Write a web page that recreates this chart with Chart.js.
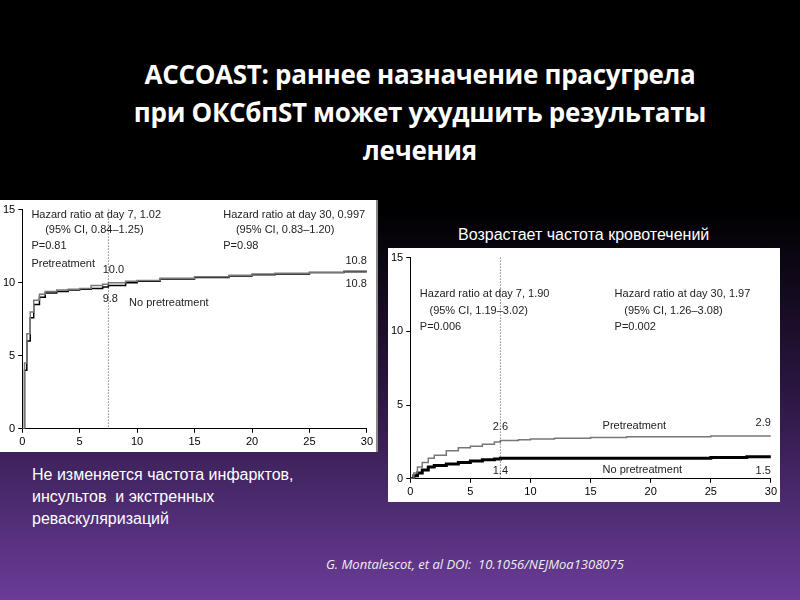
<!DOCTYPE html>
<html>
<head>
<meta charset="utf-8">
<script src="https://cdn.jsdelivr.net/npm/chart.js@4"></script>
<style>
  body { margin: 0; width: 800px; height: 600px; overflow: hidden;
         background: linear-gradient(#000 0%, #000 35%, #2a1640 65%, #6a3c98 100%);
         font-family: "Liberation Sans", Arial, sans-serif; position: relative; }
  .title { position: absolute; left: 60px; top: 55px; width: 720px; text-align: center;
           color: #fff; font: bold 26px "Open Sans", sans-serif; line-height: 38px; letter-spacing: -0.3px; }
  .panel { position: absolute; background: #fff; }
  .txt { position: absolute; color: #fff; font-size: 16px; }
</style>
</head>
<body>
<div class="title">ACCOAST: раннее назначение прасугрела<br>при ОКСбпST может ухудшить результаты<br>лечения</div>
<div class="panel" style="left:0;top:200px;width:376px;height:252px;border-right:2px solid #888"><canvas id="leftChart" width="376" height="252"></canvas></div>
<div class="txt" style="left:458px;top:226px">Возрастает частота кровотечений</div>
<div class="panel" style="left:388px;top:248px;width:392px;height:254px"><canvas id="rightChart" width="392" height="254"></canvas></div>
<div class="txt" style="left:32px;top:464px;line-height:22px">Не изменяется частота инфарктов,<br>инсультов&nbsp; и экстренных<br>реваскуляризаций</div>
<div class="txt" style="left:326px;top:555px;font-style:italic;font-size:13px;color:#eee;font-family:'Open Sans',sans-serif">G. Montalescot, et al DOI:&nbsp; 10.1056/NEJMoa1308075</div>
<script>
// left chart: death, MI, stroke, urgent revasc (%)
const leftDays = [0, 0.2, 0.4, 0.7, 1, 1.5, 2, 3, 4, 5, 6, 7, 7.5, 9, 10, 12, 15, 18, 20, 22, 25, 28, 30];
const leftPre  = [0, 4.5, 6.5, 8.0, 8.8, 9.2, 9.4, 9.5, 9.55, 9.6, 9.8, 9.9, 10.0, 10.1, 10.15, 10.3, 10.4, 10.5, 10.6, 10.65, 10.7, 10.8, 10.8];
const leftNo   = [0, 4.0, 6.0, 7.6, 8.5, 9.0, 9.3, 9.4, 9.5, 9.55, 9.6, 9.7, 9.8, 10.0, 10.1, 10.25, 10.35, 10.45, 10.55, 10.6, 10.7, 10.75, 10.8];
// right chart: TIMI major/minor bleeding (%)
const rightDays = [0, 0.3, 0.6, 1, 1.5, 2, 3, 4, 5, 6, 7, 7.5, 9, 10, 12, 15, 18, 20, 25, 28, 30];
const rightPre  = [0, 0.4, 0.8, 1.1, 1.4, 1.6, 1.9, 2.1, 2.2, 2.35, 2.5, 2.6, 2.65, 2.7, 2.75, 2.8, 2.85, 2.85, 2.9, 2.9, 2.9];
const rightNo   = [0, 0.2, 0.4, 0.6, 0.8, 0.9, 1.0, 1.1, 1.2, 1.3, 1.35, 1.4, 1.4, 1.4, 1.4, 1.4, 1.4, 1.4, 1.45, 1.5, 1.5];
const xTicks = [0, 5, 10, 15, 20, 25, 30];
const yTicks = [0, 5, 10, 15];

function pts(xs, ys) { return xs.map((x, i) => ({x: x, y: ys[i]})); }

// draws text labels and the day-7.5 dotted line in data coordinates
function notesPlugin(notes) {
  return {
    id: 'notes',
    afterDatasetsDraw(chart) {
      const c = chart.ctx, xs = chart.scales.x, ys = chart.scales.y;
      c.save();
      c.strokeStyle = '#444'; c.setLineDash([1, 2]); c.lineWidth = 1;
      c.beginPath(); c.moveTo(xs.getPixelForValue(7.5), ys.getPixelForValue(15));
      c.lineTo(xs.getPixelForValue(7.5), ys.getPixelForValue(0)); c.stroke();
      c.setLineDash([]);
      c.fillStyle = '#222'; c.font = '11px "Liberation Sans Narrow", "Liberation Sans", sans-serif'; c.textBaseline = 'middle';
      notes.forEach(n => {
        c.textAlign = n.align || 'left';
        c.fillText(n.t, xs.getPixelForValue(n.x), ys.getPixelForValue(n.y));
      });
      c.restore();
    }
  };
}

function makeChart(id, days, pre, no, notes, preColor) {
  return new Chart(document.getElementById(id).getContext('2d'), {
    type: 'line',
    data: {
      datasets: [
        { label: 'Pretreatment', data: pts(days, pre), borderColor: preColor, borderWidth: 1.5, pointRadius: 0, stepped: true },
        { label: 'No pretreatment', data: pts(days, no), borderColor: '#000', borderWidth: id === 'rightChart' ? 3 : 1.5, pointRadius: 0, stepped: true }
      ]
    },
    options: {
      responsive: false, animation: false,
      layout: { padding: { top: 8, right: 8 } },
      plugins: { legend: { display: false }, tooltip: { enabled: false } },
      scales: {
        x: { type: 'linear', min: 0, max: 30, border: { color: '#000' },
             grid: { drawOnChartArea: false, tickLength: 4, color: '#000' },
             afterBuildTicks: a => { a.ticks = xTicks.map(v => ({value: v})); },
             ticks: { color: '#000', font: { size: 11 } } },
        y: { min: 0, max: 15, border: { color: '#000' },
             grid: { drawOnChartArea: false, tickLength: 4, color: '#000' },
             afterBuildTicks: a => { a.ticks = yTicks.map(v => ({value: v})); },
             ticks: { color: '#000', font: { size: 11 } } }
      }
    },
    plugins: [notesPlugin(notes)]
  });
}

makeChart('leftChart', leftDays, leftPre, leftNo, [
  {t: 'Hazard ratio at day 7, 1.02', x: 0.8, y: 14.6},
  {t: '(95% CI, 0.84\u20131.25)', x: 2, y: 13.6},
  {t: 'P=0.81', x: 0.8, y: 12.5},
  {t: 'Hazard ratio at day 30, 0.997', x: 17.5, y: 14.6},
  {t: '(95% CI, 0.83\u20131.20)', x: 18.6, y: 13.6},
  {t: 'P=0.98', x: 17.5, y: 12.5},
  {t: 'Pretreatment', x: 0.8, y: 11.3},
  {t: '10.0', x: 7, y: 10.9},
  {t: '9.8', x: 7, y: 8.9},
  {t: 'No pretreatment', x: 9.3, y: 8.6},
  {t: '10.8', x: 30, y: 11.5, align: 'right'},
  {t: '10.8', x: 30, y: 9.9, align: 'right'}
], '#777');

makeChart('rightChart', rightDays, rightPre, rightNo, [
  {t: 'Hazard ratio at day 7, 1.90', x: 0.8, y: 12.5},
  {t: '(95% CI, 1.19\u20133.02)', x: 1.6, y: 11.4},
  {t: 'P=0.006', x: 0.8, y: 10.3},
  {t: 'Hazard ratio at day 30, 1.97', x: 17, y: 12.5},
  {t: '(95% CI, 1.26\u20133.08)', x: 17.8, y: 11.4},
  {t: 'P=0.002', x: 17, y: 10.3},
  {t: 'Pretreatment', x: 16, y: 3.6},
  {t: '2.6', x: 7.5, y: 3.5, align: 'center'},
  {t: '1.4', x: 7.5, y: 0.5, align: 'center'},
  {t: 'No pretreatment', x: 16, y: 0.6},
  {t: '2.9', x: 30, y: 3.8, align: 'right'},
  {t: '1.5', x: 30, y: 0.5, align: 'right'}
], '#777');
</script>
</body>
</html>
